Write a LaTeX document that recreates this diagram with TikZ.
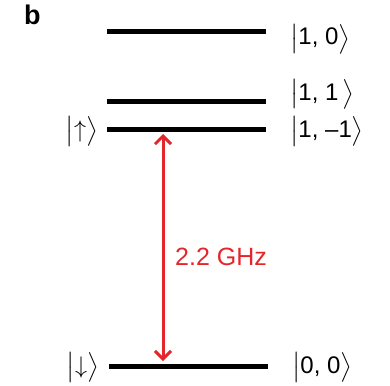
\RequirePackage{fix-cm}
\documentclass[tikz,border=0pt]{standalone}
\usepackage{amsmath}
\usepackage{exscale}
\usepackage{fontspec}
\setmainfont{Liberation Sans}
\usetikzlibrary{arrows.meta}
\definecolor{arrred}{RGB}{228,38,42}
\begin{document}
\begin{tikzpicture}[x=1pt,y=-1pt,
  level/.style={line width=5pt},
  ket/.style={font=\fontsize{24}{29}\selectfont, inner sep=0pt},
  trans/.style={arrred, line width=3pt, {Straight Barb[length=8pt,width=16pt,line width=3pt]}-{Straight Barb[length=8pt,width=16pt,line width=3pt]}}]
\useasboundingbox (0,0) rectangle (390,385);
\node[font=\fontsize{27}{30}\selectfont\bfseries, inner sep=0pt, anchor=base west] (b) at (24,25) {b};
\coordinate (l1a) at (107,32); \coordinate (l1b) at (266,32);
\coordinate (l2a) at (107,101); \coordinate (l2b) at (266,101);
\coordinate (l3a) at (107,129.5); \coordinate (l3b) at (266,129.5);
\coordinate (l4a) at (109,366); \coordinate (l4b) at (268,366);
\draw[level] (l1a) -- (l1b);
\draw[level] (l2a) -- (l2b);
\draw[level] (l3a) -- (l3b);
\draw[level] (l4a) -- (l4b);
\node[ket, anchor=west] (k10) at (290,39) {$\bigl|$1, 0$\bigr\rangle$};
\node[ket, anchor=west] (k11) at (290,94) {$\bigl|$1, 1$\,\bigr\rangle$};
\node[ket, anchor=west] (k1m) at (290,131) {$\bigl|$1, –1$\bigr\rangle$};
\node[ket, anchor=west] (k00) at (292,367) {$\bigl|$0, 0$\bigr\rangle$};
\node[ket, anchor=east] (up) at (98,131) {$\bigl|\uparrow\bigr\rangle$};
\node[ket, anchor=east] (dn) at (99,367) {$\bigl|\downarrow\bigr\rangle$};
\coordinate (at) at (163,134);
\coordinate (ab) at (163,361);
\draw[trans] (at) -- (ab);
\node[arrred, font=\fontsize{25}{28}\selectfont, anchor=west, inner sep=0pt] (ghz) at (175,257) {2.2 GHz};
\end{tikzpicture}
\end{document}
